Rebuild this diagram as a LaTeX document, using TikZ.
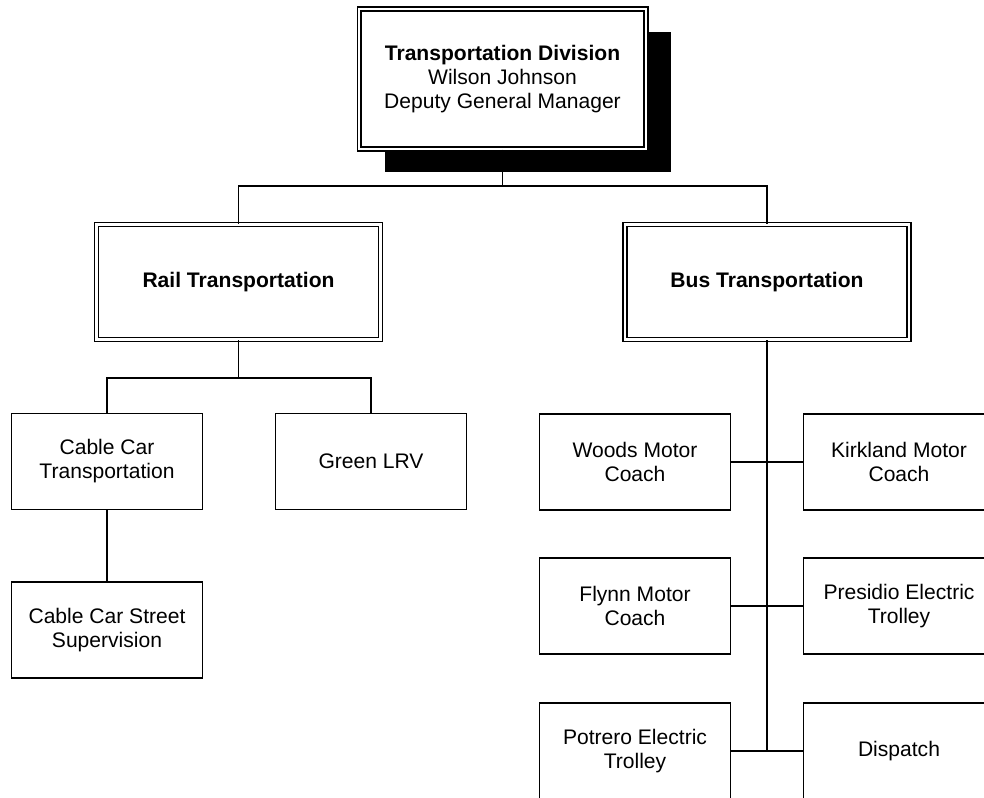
\documentclass[tikz,border=0pt]{standalone}
\usepackage{fontspec}
\setmainfont{Liberation Sans}
\usetikzlibrary{shadows}

\begin{document}
\begin{tikzpicture}[
        x=0.75pt, y=-0.75pt,
        every node/.style = {
            draw,
            line width=1pt,
            fill=white,
            align=center,
            font=\fontsize{15.8}{18}\selectfont
        },
        unit/.style = {
            minimum width=143pt,
            minimum height=72pt
        },
        division/.style = {
            double,
            double distance=1.8pt,
            line width=1.1pt,
            minimum width=213pt,
            minimum height=86pt
        },
        chief/.style = {
            division,
            minimum width=215pt,
            minimum height=105pt,
            drop shadow = {shadow xshift=19pt, shadow yshift=-17.5pt,
                fill=black, opacity=1}
        },
        link/.style = {line width=1pt}]
    \path[use as bounding box, clip] (0,0) rectangle (984,797);

    % head of the division
    \node[chief] (division) at (502.5,79)
        {\textbf{Transportation Division}\\Wilson Johnson\\Deputy General Manager};

    % the two branches
    \node[division] (rail) at (238.5,282) {\textbf{Rail Transportation}};
    \node[division] (bus)  at (767,282)   {\textbf{Bus Transportation}};

    % rail units
    \node[unit] (cablecar) at (107,461.5) {Cable Car\\Transportation};
    \node[unit] (greenlrv) at (371,461.5) {Green LRV};
    \node[unit] (street)   at (107,630)   {Cable Car Street\\Supervision};

    % bus units
    \node[unit] (woods)    at (635,462) {Woods Motor\\Coach};
    \node[unit] (kirkland) at (899,462) {Kirkland Motor\\Coach};
    \node[unit] (flynn)    at (635,606) {Flynn Motor\\Coach};
    \node[unit] (presidio) at (899,606) {Presidio Electric\\Trolley};
    \node[unit] (potrero)  at (635,751) {Potrero Electric\\Trolley};
    \node[unit] (dispatch) at (899,751) {Dispatch};

    \coordinate (topjoin)  at (502.5,186);
    \coordinate (railjoin) at (238.5,378);

    % connectors
    \draw[link] (division.south) -- (topjoin) -| (rail.north);
    \draw[link] (topjoin) -| (bus.north);
    \draw[link] (rail.south) -- (railjoin) -| (cablecar.north);
    \draw[link] (railjoin) -| (greenlrv.north);
    \draw[link] (cablecar.south) -- (street.north);
    \draw[link] (bus.south) -- (bus.south |- potrero.east);
    \draw[link] (woods.east) -- (kirkland.west);
    \draw[link] (flynn.east) -- (presidio.west);
    \draw[link] (potrero.east) -- (dispatch.west);
\end{tikzpicture}
\end{document}
